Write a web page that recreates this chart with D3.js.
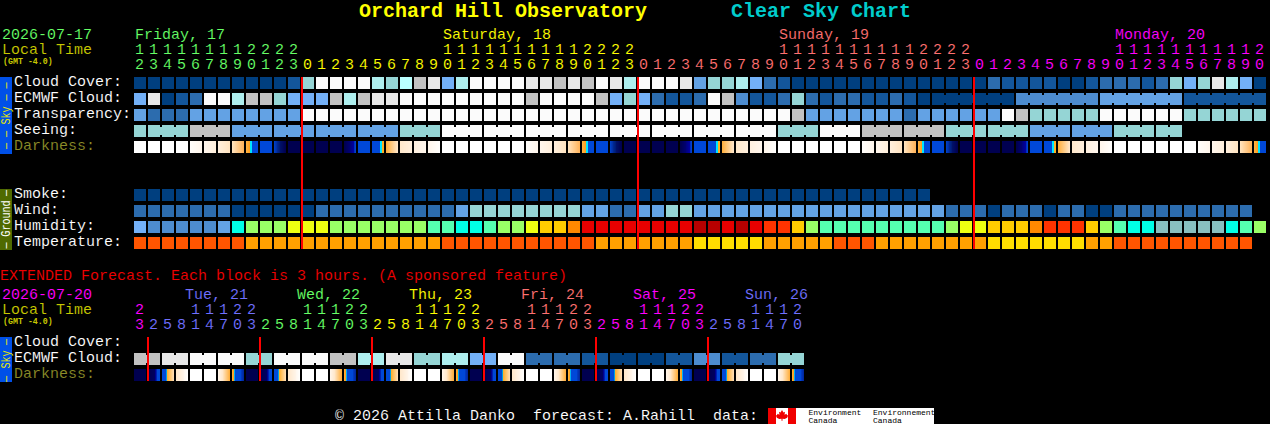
<!DOCTYPE html>
<html><head><meta charset="utf-8">
<script src="https://cdn.jsdelivr.net/npm/d3@7"></script>
<style>html,body{margin:0;background:#000;overflow:hidden}svg{display:block}text{font-family:"Liberation Mono",monospace}.thin{stroke:#000;stroke-width:.1px}</style>
</head><body><svg id="c" width="1270" height="424"></svg>
<script>
// ---------- data ----------
const mainHours=[12,13,14,15,16,17,18,19,20,21,22,23,0,1,2,3,4,5,6,7,8,9,10,11,12,13,14,15,16,17,18,19,20,21,22,23,0,1,2,3,4,5,6,7,8,9,10,11,12,13,14,15,16,17,18,19,20,21,22,23,0,1,2,3,4,5,6,7,8,9,10,11,12,13,14,15,16,17,18,19,20];
const mainDays=["Friday, 17","Saturday, 18","Sunday, 19","Monday, 20"];
const extHours=[23,2,5,8,11,14,17,20,23,2,5,8,11,14,17,20,23,2,5,8,11,14,17,20,23,2,5,8,11,14,17,20,23,2,5,8,11,14,17,20,23,2,5,8,11,14,17,20];
const extDays=["","Tue, 21","Wed, 22","Thu, 23","Fri, 24","Sat, 25","Sun, 26"];
const cloudCover=[0,0,0,0,0,0,0,0,0,0,0,1,6,10,10,10,10,7,6,11,8,9,5,7,10,10,10,10,9,9,8,9,8,10,9,7,10,10,10,9,4,6,6,7,5,2,1,0,0,0,0,0,0,0,0,0,0,0,0,0,0,2,1,1,1,1,0,0,1,2,2,2,1,2,6,5,6,9,7,5,0];
const ecmwfCloud=[5,9,0,1,2,10,10,7,8,8,6,5,5,5,8,7,8,9,9,10,10,10,10,10,10,10,10,10,8,10,10,10,10,8,5,6,5,2,1,1,2,10,8,3,1,1,2,6,2,1,2,2,1,1,2,1,0,0,0,0,0,0,0,3,3,3,3,3,3,4,4,4,4,4,4,1,1,1,1,1,1];
const transparency=[4,2,2,2,4,4,4,4,4,4,4,4,10,10,10,10,10,10,10,10,10,10,10,10,10,10,10,10,10,10,10,10,10,10,10,10,10,10,10,10,10,10,10,10,10,10,10,8,4,4,4,4,4,4,4,2,4,4,4,4,4,4,10,8,6,6,6,6,6,10,10,10,10,10,10,6,6,6,6,6,6];
const seeing=[6,6,6,6,8,8,8,4,4,4,4,4,4,4,4,4,4,4,4,6,6,6,10,10,10,10,10,10,10,10,10,10,10,10,10,10,10,10,10,10,10,10,10,10,10,10,6,6,6,10,10,10,8,8,8,8,8,8,6,6,6,6,6,6,4,4,4,4,4,4,6,6,6,6,6];
const darkness=["W","W","W","W","a","b","c","d","e","B","f","N","N","N","N","g","B","h","i","j","k","l","W","W","W","W","W","W","a","b","c","d","e","B","f","N","N","N","N","g","B","h","i","j","k","l","W","W","W","W","W","W","a","b","c","d","e","B","f","N","N","N","N","g","B","h","i","j","k","l","W","W","W","W","W","W","a","b","c","d","e"];
const smoke=[0,0,0,0,0,0,0,0,0,0,0,0,0,0,0,0,0,0,0,0,0,0,0,0,0,0,0,0,0,0,0,0,0,0,0,0,0,0,0,0,0,0,0,0,0,0,0,0,0,0,0,0,0,0,0,0,0];
const wind=[2,2,2,2,2,2,2,0,0,0,0,0,0,2,2,2,2,2,2,2,2,2,2,4,6,6,6,6,6,6,6,6,4,4,2,2,4,4,6,6,4,4,4,4,4,4,4,4,4,4,4,4,4,4,4,4,4,4,2,2,2,0,2,2,2,0,2,2,0,0,2,2,2,2,2,2,2,2,2,2];
const humidity=[0,1,1,1,1,1,2,3,5,5,5,6,6,6,5,5,5,5,5,5,5,4,4,3,3,4,5,5,6,7,7,8,10,10,10,10,10,10,10,10,11,11,10,11,10,9,9,7,5,4,4,4,4,4,4,4,4,4,5,6,6,7,7,7,8,9,9,9,7,5,4,3,3,12,12,12,12,12,3,4,5];
const temperature=[0,0,0,0,0,0,0,0,1,1,1,1,1,1,1,1,1,1,1,1,1,1,0,0,0,0,0,0,0,0,0,0,0,1,1,1,1,1,1,1,2,2,2,2,2,1,1,1,1,1,0,0,0,1,1,1,1,1,1,1,1,2,2,2,2,2,2,2,1,1,0,0,0,0,0,0,0,0,0,0];
const extEcmwf=[8,8,9,9,10,10,10,10,6,6,10,10,10,10,8,8,7,7,9,9,6,6,7,7,5,5,10,10,2,2,2,2,1,1,0,0,0,0,1,1,3,3,1,1,2,2,6,6];
const extDarkness=["N","p","q","r","W","W","s","t","N","p","q","r","W","W","s","t","N","p","q","r","W","W","s","t","N","p","q","r","W","W","s","t","N","p","q","r","W","W","s","t","N","p","q","r","W","W","s","t"];
const midnightCells=[12,36,60];
const extMidnightCells=[1,9,17,25,33,41];

// ---------- styles ----------
const skyPalette=["#003f7f","#13569b","#2c6cae","#4d8ccf","#63a2e4","#73b0f7","#95d5d5","#aeeeee","#c2c2c2","#e8e8e8","#fbfbfb","#baffff"];
const humPalette=["#73b0f7","#4d8ccf","#63a2e4","#00ffe6","#55ffb0","#99ff66","#eeff11","#ffcc00","#ff8800","#ff3300","#e80000","#b80000","#88bfbf"];
const tempPalette=["#ff5500","#ffa000","#ffdd00"];
const mainDayColors=["#66ff66","#ffff00","#ff7070","#ff00ff"];
const extDayColors=["#ff00ff","#7070ff","#66ff66","#ffff00","#ff7070","#ff00ff","#7070ff"];
const darkStrips={
 W:[[12,"#fff","#fff"]],
 a:[[12,"#fffdfa","#fff6ec"]],
 b:[[12,"#fff6ec","#ffefdc"]],
 c:[[12,"#ffefdc","#ffe4c2"]],
 d:[[12,"#ffe2bc","#ffb45c"]],
 e:[[4,"#ffb040","#ffa020"],[2,"#00e5ff","#00e5ff"],[6,"#0048d8","#0048d8"]],
 B:[[12,"#0048d8","#0048d8"]],
 f:[[3,"#0040c4","#0030a8"],[3,"#002890","#001c78"],[6,"#001068","#000050"]],
 N:[[12,"#000050","#000050"]],
 g:[[6,"#000050","#000070"],[4,"#000080","#0000a0"],[2,"#0030c0","#0040d0"]],
 h:[[8,"#0048d8","#0048d8"],[2,"#00e5ff","#00e5ff"],[2,"#ffb020","#ffb020"]],
 i:[[12,"#ffb040","#ffe6c8"]],
 j:[[12,"#ffe8cc","#ffefdc"]],
 k:[[12,"#fff0e0","#fff6ec"]],
 l:[[12,"#fff6ec","#fffefc"]],
 p:[[7,"#000050","#000060"],[2,"#000090","#0020b0"],[3,"#0048d8","#0048d8"]],
 q:[[4,"#0048d8","#0048d8"],[1,"#00a0e0","#00a0e0"],[7,"#ffb030","#ffdcb0"]],
 r:[[8,"#ffe8cc","#fff4e8"],[4,"#fff8f0","#fffefc"]],
 s:[[5,"#fff4e8","#ffe8cc"],[7,"#ffe0b8","#ffb040"]],
 t:[[2,"#ffb030","#ffa020"],[1,"#00b0f0","#00b0f0"],[6,"#0048d8","#0048d8"],[3,"#0038c0","#0028a0"]]
};
function expand(code){
  const out=[];
  for(const [n,a,b] of darkStrips[code]){
    const f=d3.interpolateRgb(a,b);
    for(let k=0;k<n;k++) out.push(f(n>1?k/(n-1):0));
  }
  return out;
}

// ---------- scales ----------
const cellW=12;
const x=d3.scaleLinear().domain([0,1]).range([134,148]);
const xHour=i=>x(i)+cellW/2-0.5;
const rowY=d3.scaleOrdinal()
  .domain(["Cloud Cover:","ECMWF Cloud:","Transparency:","Seeing:","Darkness:","Smoke:","Wind:","Humidity:","Temperature:","extCloud","extEcmwf","extDark"])
  .range([77,93,109,125,141,189,205,221,237,337,353,369]);

const svg=d3.select("#c");
svg.append("rect").attr("width",1270).attr("height",424).attr("fill","#000");
const crisp=svg.append("g").attr("shape-rendering","crispEdges");

function text(s,px,py,size,fill,opts={}){
  const t=svg.append("text").attr("x",px).attr("y",py).attr("font-size",size).attr("fill",fill).text(s).style("white-space","pre");
  if(opts.bold)t.attr("font-weight","bold");
  else if(size>=15)t.attr("class","thin");
  if(opts.anchor)t.attr("text-anchor",opts.anchor);
  if(opts.transform)t.attr("transform",opts.transform);
  return t;
}

// block rows
function row(name,values,palette,group){
  const y=rowY(name);
  const g=crisp.append("g");
  g.selectAll("rect").data(values).join("rect")
    .attr("x",(d,i)=>x(i)).attr("y",y).attr("width",cellW).attr("height",cellW)
    .attr("fill",d=>palette[d]);
  if(group){
    g.selectAll("rect.b").data(values.map((d,i)=>[d,i]).filter(([d,i])=>i+1<values.length&&group(i)===group(i+1)))
      .join("rect").attr("class","b")
      .attr("x",([d,i])=>x(i)+cellW).attr("y",y+2).attr("width",2).attr("height",cellW-4)
      .attr("fill",([d])=>palette[d]);
  }
}
function darkRow(name,codes){
  const y=rowY(name);
  const g=crisp.append("g");
  codes.forEach((c,i)=>{
    g.append("g").selectAll("rect").data(expand(c)).join("rect")
      .attr("x",(d,k)=>x(i)+k).attr("y",y).attr("width",1).attr("height",cellW).attr("fill",d=>d);
  });
}
row("Cloud Cover:",cloudCover,skyPalette);
row("ECMWF Cloud:",ecmwfCloud,skyPalette,i=>i>=57?1000+Math.floor((i-57)/6):i);
row("Transparency:",transparency,skyPalette);
row("Seeing:",seeing,skyPalette,i=>Math.floor((i+2)/3));
darkRow("Darkness:",darkness);
row("Smoke:",smoke,skyPalette);
row("Wind:",wind,skyPalette);
row("Humidity:",humidity,humPalette);
row("Temperature:",temperature,tempPalette);
row("extEcmwf",extEcmwf,skyPalette,i=>Math.floor(i/2));
darkRow("extDark",extDarkness);

// midnight lines
midnightCells.forEach(i=>crisp.append("rect").attr("x",x(i)-1).attr("y",rowY("Cloud Cover:")).attr("width",2).attr("height",172).attr("fill","#ff0000"));
extMidnightCells.forEach(i=>crisp.append("rect").attr("x",x(i)-1).attr("y",rowY("extCloud")).attr("width",2).attr("height",44).attr("fill","#ff0000"));

// side bars
crisp.append("rect").attr("x",0).attr("y",77).attr("width",12).attr("height",77).attr("fill","#0050e8");
crisp.append("rect").attr("x",0).attr("y",189).attr("width",12).attr("height",61).attr("fill","#4f6a00");
crisp.append("rect").attr("x",0).attr("y",337).attr("width",12).attr("height",45).attr("fill","#0050e8");
const side=(s,cy,fill)=>text(s,0,0,12,fill,{anchor:"middle",transform:`translate(10,${cy}) rotate(-90) scale(.84,1)`});
side("— —",91.5,"#e8e800"); side("Sky",115.5,"#e8e800"); side("— —",140,"#e8e800");
side("—",193,"#ffffff"); side("Ground",218.5,"#ffffff"); side("—",245.5,"#ffffff");
side("—",342,"#e8e800"); side("Sky",359.5,"#e8e800"); side("—",379,"#e8e800");

// titles
text("Orchard Hill Observatory",359,17,20,"#ffff00",{bold:true});
text("Clear Sky Chart",731,17,20,"#00cccc",{bold:true});

// header left
text("2026-07-17",2,39,15,"#66ff66");
text("Local Time",2,54,15,"#c8c800");
text("(GMT -4.0)",3,64,8.3,"#c8c800",{bold:true});

// row labels
["Cloud Cover:","ECMWF Cloud:","Transparency:","Seeing:"].forEach(s=>text(s,14,rowY(s)+9,15,"#ffffff"));
text("Darkness:",14,rowY("Darkness:")+9,15,"#8c8c28");
["Smoke:","Wind:","Humidity:","Temperature:"].forEach(s=>text(s,14,rowY(s)+9,15,"#ffffff"));

// hour ticks
function hourTicks(hours,dayColors,dayNames,yTens,yOnes,yDay,dayDx){
  let day=0,named=new Set();
  hours.forEach((h,i)=>{
    if(i>0&&h<hours[i-1]) day++;
    const col=dayColors[day];
    text(String(h%10),xHour(i),yOnes,15,col,{anchor:"middle"});
    if(h>=10){
      text(String(Math.floor(h/10)),xHour(i),yTens,15,col,{anchor:"middle"});
      if(!named.has(day)&&dayNames[day]){named.add(day);text(dayNames[day],x(i)+dayDx,yDay,15,col);}
    }
  });
}
hourTicks(mainHours,mainDayColors,mainDays,54,69,39,1);
hourTicks(extHours,extDayColors,extDays,314,329,299,-5);

// extended
text("EXTENDED Forecast. Each block is 3 hours. (A sponsored feature)",0,280,15,"#f00000");
text("2026-07-20",2,299,15,"#ff00ff");
text("Local Time",2,314,15,"#c8c800");
text("(GMT -4.0)",3,324,8.3,"#c8c800",{bold:true});
text("Cloud Cover:",14,rowY("extCloud")+9,15,"#ffffff");
text("ECMWF Cloud:",14,rowY("extEcmwf")+9,15,"#ffffff");
text("Darkness:",14,rowY("extDark")+9,15,"#8c8c28");

// footer
text("© 2026 Attilla Danko  forecast: A.Rahill  data:",335,420,15,"#ffffff");
crisp.append("rect").attr("x",768).attr("y",408).attr("width",166).attr("height",16).attr("fill","#ffffff");
crisp.append("rect").attr("x",768).attr("y",408).attr("width",8).attr("height",16).attr("fill","#f00000");
crisp.append("rect").attr("x",788).attr("y",408).attr("width",8).attr("height",16).attr("fill","#f00000");
svg.append("path").attr("d","M782 410l1.5 2.5 1.5-.7-.5 3 2-1 .5 1.5 1.2 0-1 2.5-2.5 1.2-2.2-.2v2h-1v-2l-2.2.2-2.5-1.2-1-2.5 1.2 0 .5-1.5 2 1-.5-3 1.5.7z").attr("fill","#f00000");
text("Environment",808.5,415,8,"#000000");
text("Canada",808.5,423,8,"#000000");
text("Environnement",873,415,8,"#000000");
text("Canada",873,423,8,"#000000");
</script></body></html>
